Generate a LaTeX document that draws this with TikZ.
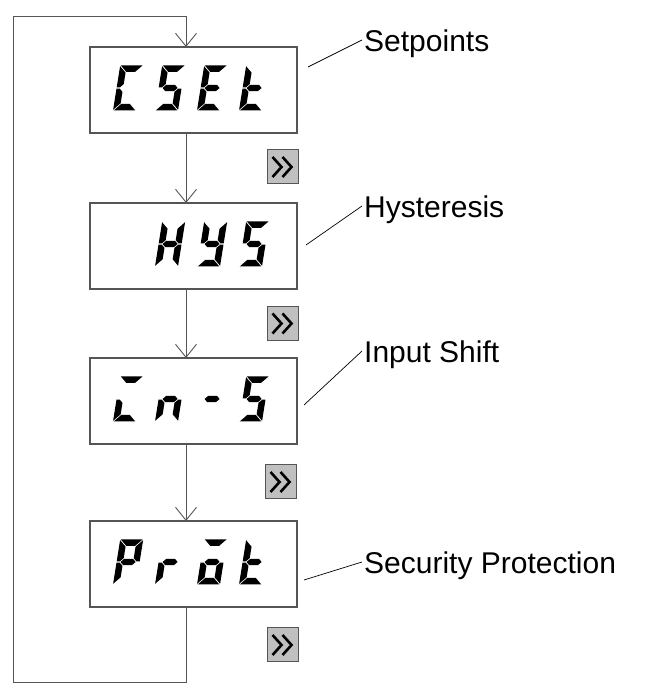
\documentclass[tikz,border=0pt]{standalone}
\usepackage{fontspec}
\setmainfont{Liberation Sans}
\usetikzlibrary{arrows.meta,calc}
\definecolor{linegray}{HTML}{555555}
\definecolor{btngray}{HTML}{C0C0C0}
\tikzset{
  dispbox/.style={draw=linegray,line width=1.2pt,minimum width=207pt,minimum height=86pt,inner sep=0pt,outer sep=0pt},
  btn/.style={draw=linegray,fill=btngray,line width=1pt,minimum width=31pt,minimum height=34pt,inner sep=0pt},
  chev/.style={line width=2.6pt,black,line cap=butt,line join=miter},
  conn/.style={linegray,line width=0.9pt},
  arr/.style={-{Straight Barb[length=13pt,width=21pt]}},
  lead/.style={black,line width=0.7pt},
  lbl/.style={font=\fontsize{30}{34}\selectfont,inner sep=0pt,anchor=west},
  segfill/.style={fill=black}
}
\def\segpatha{(0.7,45)--(22.3,45)--(15.8,38.5)--(7.2,38.5)--cycle}
\def\segpathd{(0.7,0)--(22.3,0)--(15.8,6.5)--(7.2,6.5)--cycle}
\def\segpathg{(4,22.5)--(7.2,25.7)--(15.8,25.7)--(19,22.5)--(15.8,19.3)--(7.2,19.3)--cycle}
\def\segpathf{(0,23.2)--(0,44.3)--(6.5,37.8)--(6.5,26.4)--(3.3,23.2)--cycle}
\def\segpathe{(0,21.8)--(0,0.7)--(6.5,7.2)--(6.5,18.6)--(3.3,21.8)--cycle}
\def\segpathb{(23,23.2)--(23,44.3)--(16.5,37.8)--(16.5,26.4)--(19.7,23.2)--cycle}
\def\segpathc{(23,21.8)--(23,0.7)--(16.5,7.2)--(16.5,18.6)--(19.7,21.8)--cycle}
\newcommand\sevseg[3]{%
  \begin{scope}[shift={(#1,#2)},xslant=0.16]
    \foreach \s in {#3} {\fill[segfill] \csname segpath\s\endcsname;}
  \end{scope}}
\newcommand\chevrons[1]{%
  \draw[chev] ($(#1)+(-10,10)$) -- ($(#1)+(-1,0)$) -- ($(#1)+(-10,-10)$);
  \draw[chev] ($(#1)+(0,10)$) -- ($(#1)+(9,0)$) -- ($(#1)+(0,-10)$);}
\begin{document}
\begin{tikzpicture}[x=1pt,y=1pt]
\useasboundingbox (0,0) rectangle (645,692);
% display boxes
\node[dispbox] (b1) at (193.5,602) {};
\node[dispbox] (b2) at (193.5,446) {};
\node[dispbox] (b3) at (193.5,291) {};
\node[dispbox] (b4) at (193.5,128) {};
% seven-segment digits
\sevseg{113}{581.5}{a,f,e,d}
\sevseg{155}{581.5}{a,f,g,c,d}
\sevseg{197}{581.5}{a,f,g,e,d}
\sevseg{239}{581.5}{f,g,e,d}
\sevseg{155}{425.5}{b,c,e,f,g}
\sevseg{197}{425.5}{b,f,g,c,d}
\sevseg{239}{425.5}{a,f,g,c,d}
\sevseg{113}{270.5}{a,e,d}
\sevseg{155}{270.5}{e,g,c}
\sevseg{197}{270.5}{g}
\sevseg{239}{270.5}{a,f,g,c,d}
\sevseg{113}{107.5}{a,b,f,g,e}
\sevseg{155}{107.5}{e,g}
\sevseg{197}{107.5}{a,g,c,d,e}
\sevseg{239}{107.5}{f,g,e,d}
% connectors
\coordinate (ax) at (186,0);
\coordinate (tl) at (13,676);
\coordinate (bl) at (13,10);
\draw[conn,arr] (b4.south -| ax) -- (ax |- bl) -- (bl) -- (tl) -- (tl -| ax) -- (b1.north -| ax);
\draw[conn,arr] (b1.south -| ax) -- (b2.north -| ax);
\draw[conn,arr] (b2.south -| ax) -- (b3.north -| ax);
\draw[conn,arr] (b3.south -| ax) -- (b4.north -| ax);
% buttons
\node[btn] (k1) at (282.5,525) {};
\node[btn] (k2) at (282.5,368.5) {};
\node[btn] (k3) at (280.5,210) {};
\node[btn] (k4) at (282.5,47) {};
\chevrons{k1}
\chevrons{k2}
\chevrons{k3}
\chevrons{k4}
% labels
\node[lbl] (l1) at (364,648) {Setpoints};
\node[lbl] (l2) at (364,482) {Hysteresis};
\node[lbl] (l3) at (364,337) {Input Shift};
\node[lbl] (l4) at (364,126) {Security Protection};
\coordinate (s1) at (308,625);
\coordinate (s2) at (306,447);
\coordinate (s3) at (304,287);
\coordinate (s4) at (304,112);
\draw[lead] (s1) -- ($(l1.west)+(-2,4)$);
\draw[lead] (s2) -- ($(l2.west)+(-2,4)$);
\draw[lead] (s3) -- ($(l3.west)+(-2,4)$);
\draw[lead] (s4) -- ($(l4.west)+(-2,4)$);
\end{tikzpicture}
\end{document}
